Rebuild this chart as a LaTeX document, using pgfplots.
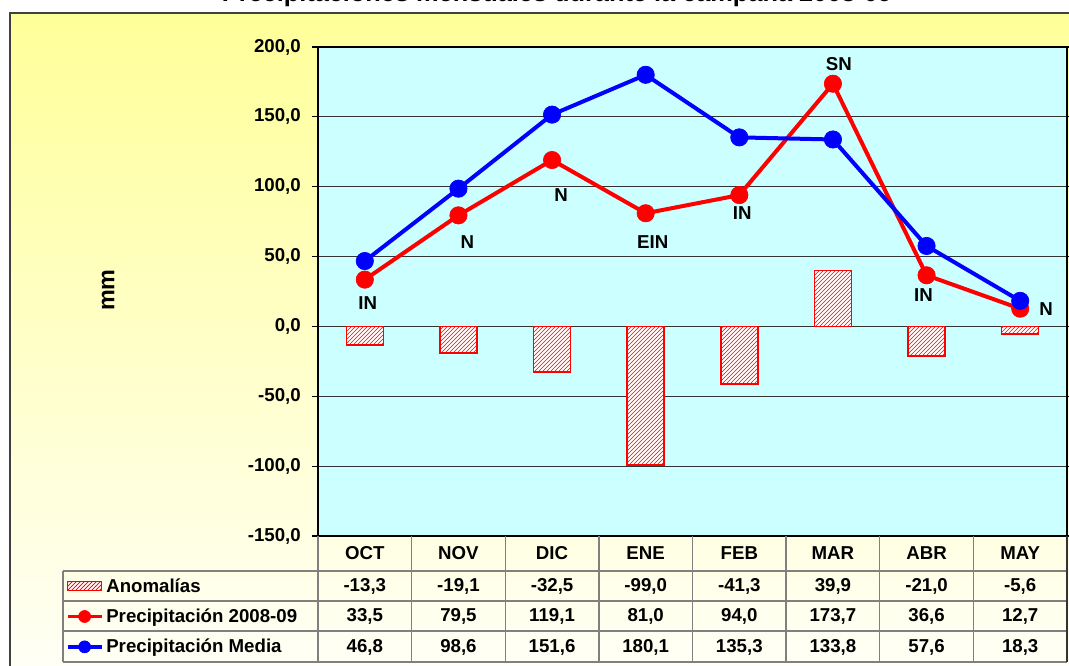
\documentclass[border=0pt]{standalone}
\usepackage{pgfplots}
\pgfplotsset{compat=1.18}
\usepackage{fontspec}
\setmainfont{Liberation Sans}
\usetikzlibrary{patterns}
\definecolor{cyanbg}{RGB}{204,255,255}
\definecolor{ytop}{RGB}{255,255,153}
\definecolor{ybot}{RGB}{255,255,246}
\definecolor{tgray}{RGB}{128,128,128}
\newcommand\tf{\fontsize{14}{16}\selectfont\bfseries}
\pgfplotsset{
  lineleg/.style={legend image code/.code={\draw[##1, line width=2.5pt, mark size=4.5pt, mark repeat=2, mark phase=2] plot coordinates {(0pt,0pt) (12.75pt,0pt) (25.5pt,0pt)};}},
  barleg/.style={legend image code/.code={\draw[red, line width=1pt, fill=white, postaction={pattern=north east lines, pattern color=red}] (0pt,-3.4pt) rectangle (25.5pt,3.4pt);}},
}
\begin{document}
\begin{tikzpicture}
\useasboundingbox (0,0) rectangle (801.75pt,499.5pt);
% chart background
\shade[top color=ytop, bottom color=ybot] (7.5pt,-3pt) rectangle (806pt,489.75pt);
\draw[black!75, line width=1.1pt] (7.5pt,-3pt) -- (7.5pt,489.75pt) -- (806pt,489.75pt);
% title (clipped by the page edge, as in the reference)
\node[anchor=base, font=\fontsize{19}{22}\selectfont\bfseries, inner sep=0pt] at (417.75pt,498.6pt) {Precipitaciones mensuales durante la campaña 2008-09};
\begin{axis}[
  at={(238.5pt,97.5pt)}, anchor=south west,
  scale only axis, width=561.75pt, height=366.75pt,
  xmin=-0.5, xmax=7.5, ymin=-150, ymax=200,
  xtick=\empty,
  ytick={-150,-100,-50,0,50,100,150,200},
  yticklabels={{-150,0},{-100,0},{-50,0},{0,0},{50,0},{100,0},{150,0},{200,0}},
  yticklabel style={font=\tf, anchor=east, inner xsep=0pt, xshift=-8.25pt},
  tick align=outside, major tick length=4.5pt,
  ytick style={black, line width=0.8pt},
  ymajorgrids, grid style={black!80, line width=0.8pt},
  axis background/.style={fill=cyanbg},
  axis line style={black, line width=0.9pt},
  ylabel={mm},
  ylabel style={at={(rel axis cs:-0.2804,0.503)}, anchor=center, font=\fontsize{17.5}{20}\selectfont\bfseries},
  clip=false,
  legend style={at={(-0.3365,-0.0716)}, anchor=north west, draw=none, fill=none,
    inner sep=0pt, outer sep=0pt, row sep=0pt, column sep=0pt, font=\tf,
    nodes={inner xsep=2.25pt, inner ysep=0pt, minimum height=22.75pt}},
  legend cell align=left,
]
\addplot[ybar, bar width=27.75pt, draw=red, line width=1.2pt, fill=white,
  postaction={pattern=north east lines, pattern color=red}, barleg]
  coordinates {(0,-13.3) (1,-19.1) (2,-32.5) (3,-99.0) (4,-41.3) (5,39.9) (6,-21.0) (7,-5.6)};
\addlegendentry{Anomalías}
\addplot[red, line width=3pt, mark=*, mark size=6.5pt, mark options={solid, fill=red, line width=0.5pt}, lineleg]
  coordinates {(0,33.5) (1,79.5) (2,119.1) (3,81.0) (4,94.0) (5,173.7) (6,36.6) (7,12.7)};
\addlegendentry{Precipitación 2008-09}
\addplot[blue, line width=3pt, mark=*, mark size=6.5pt, mark options={solid, fill=blue, line width=0.5pt}, lineleg]
  coordinates {(0,46.8) (1,98.6) (2,151.6) (3,180.1) (4,135.3) (5,133.8) (6,57.6) (7,18.3)};
\addlegendentry{Precipitación Media}
% point labels
\begin{scope}[every node/.style={font=\tf, inner sep=0pt}]
\node at ([xshift=2.25pt, yshift=-17.25pt]axis cs:0,33.5) {IN};
\node at ([xshift=6.75pt, yshift=-20.25pt]axis cs:1,79.5) {N};
\node at ([xshift=6.75pt, yshift=-26.25pt]axis cs:2,119.1) {N};
\node at ([xshift=5.25pt, yshift=-21.75pt]axis cs:3,81.0) {EIN};
\node at ([xshift=2.25pt, yshift=-13.5pt]axis cs:4,94.0) {IN};
\node at ([xshift=4.5pt, yshift=15pt]axis cs:5,173.7) {SN};
\node at ([xshift=-2.25pt, yshift=-15pt]axis cs:6,36.6) {IN};
\node at ([xshift=19.5pt, yshift=0pt]axis cs:7,12.7) {N};
\end{scope}
\end{axis}
% data table below the plot (pixel coordinates)
\begin{scope}[x=0.75pt, y=-0.75pt, shift={(0pt,499.5pt)}]
\draw[tgray, line width=1.1pt] (63,571) -- (1067,571);
\draw[tgray, line width=1.1pt] (63,601) -- (1067,601);
\draw[tgray, line width=1.1pt] (63,631) -- (1067,631);
\draw[tgray, line width=1.1pt] (63,662) -- (1067,662);
\draw[tgray, line width=1.1pt] (63,571) -- (63,662);
\foreach \k in {0,...,7} {
  \draw[tgray, line width=1.1pt] ({318+93.625*\k},536) -- ({318+93.625*\k},662);
}
\draw[black!80, line width=1.1pt] (1067,536) -- (1067,662);
\begin{scope}[every node/.style={font=\tf, inner sep=0pt}]
\foreach \m [count=\i from 0] in {OCT,NOV,DIC,ENE,FEB,MAR,ABR,MAY}
  \node at ({364.8+93.625*\i},553.5) {\m};
\foreach \v [count=\i from 0] in {{-13,3},{-19,1},{-32,5},{-99,0},{-41,3},{39,9},{-21,0},{-5,6}}
  \node at ({364.8+93.625*\i},586.5) {\v};
\foreach \v [count=\i from 0] in {{33,5},{79,5},{119,1},{81,0},{94,0},{173,7},{36,6},{12,7}}
  \node at ({364.8+93.625*\i},616.5) {\v};
\foreach \v [count=\i from 0] in {{46,8},{98,6},{151,6},{180,1},{135,3},{133,8},{57,6},{18,3}}
  \node at ({364.8+93.625*\i},647) {\v};
\end{scope}
\end{scope}
\end{tikzpicture}
\end{document}
